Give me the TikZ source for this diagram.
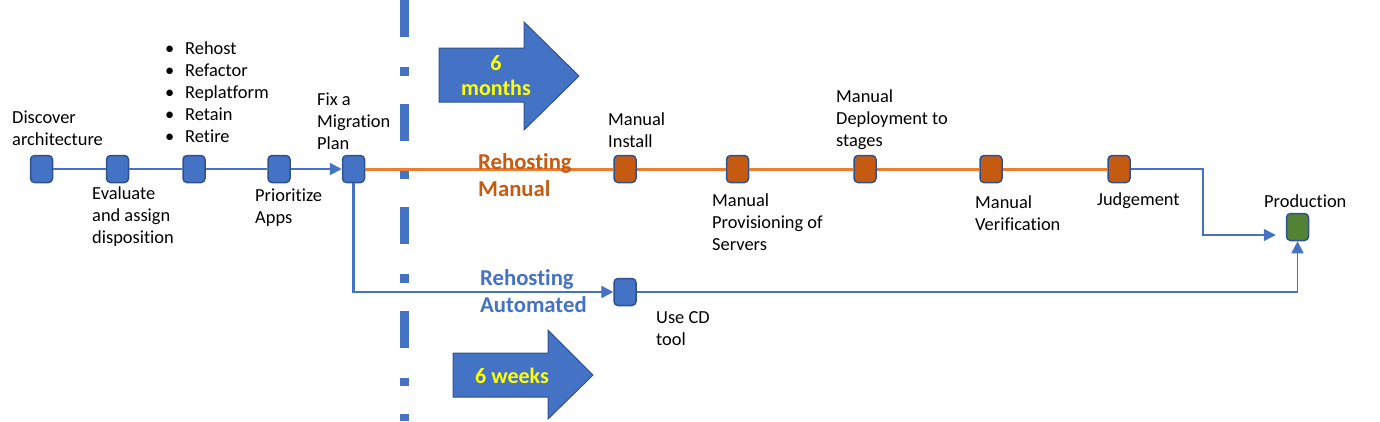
\documentclass[tikz,border=0pt]{standalone}
\usepackage{fontspec}
\setmainfont[Ligatures=NoCommon]{Carlito}
\usetikzlibrary{arrows.meta}
\definecolor{mblue}{HTML}{4472C4}
\definecolor{mborder}{HTML}{2F528F}
\definecolor{morange}{HTML}{C55A11}
\definecolor{lorange}{HTML}{ED7D31}
\definecolor{mgreen}{HTML}{548235}
\definecolor{myellow}{HTML}{FFFF00}
\tikzset{
  stage/.style={draw=mborder, line width=1.5pt, rounded corners=4pt, minimum width=22pt, minimum height=27pt, inner sep=0pt},
  bstage/.style={stage, fill=mblue},
  ostage/.style={stage, fill=morange},
  gstage/.style={stage, fill=mgreen},
  lbl/.style={anchor=north west, inner sep=0pt, align=left, font=\fontsize{18.4}{22}\selectfont},
  tag/.style={anchor=north west, inner sep=0pt, align=left, font=\fontsize{22.7}{27}\selectfont\bfseries},
  flow/.style={draw=mblue, line width=2pt},
  mflow/.style={draw=lorange, line width=3pt},
  thin/.style={draw=mblue, line width=1.5pt},
  tip/.style={-{Triangle[length=12pt,width=12pt,fill=mblue]}},
  bigarrow/.style={fill=mblue, draw=mborder, line width=1pt},
  period/.style={text=myellow, align=center, inner sep=0pt, font=\fontsize{22}{25}\selectfont\bfseries},
}
\begin{document}
\begin{tikzpicture}[x=1pt,y=-1pt]
\useasboundingbox (0,0) rectangle (1380,421);
% dash-dot separator
\draw[mblue, line width=9pt, dash pattern=on 37pt off 30pt on 8.5pt off 28pt] (404.5,0) -- (404.5,421);
% big arrows
\draw[bigarrow] (439,48) -- (524,48) -- (524,22) -- (579,76) -- (524,130) -- (524,102) -- (439,102) -- cycle;
\node[period] (months) at (496,76) {6\\months};
\draw[bigarrow] (453,353) -- (548,353) -- (548,330) -- (593,375) -- (548,419) -- (548,397) -- (453,397) -- cycle;
\node[period] (weeks) at (512,376) {6 weeks};
% stages
\node[bstage] (disc) at (41.5,169) {};
\node[bstage] (eval) at (117.5,169) {};
\node[bstage] (disp) at (194,169) {};
\node[bstage] (prio) at (279,169) {};
\node[bstage] (fix) at (353.5,169) {};
\node[ostage] (inst) at (625,169) {};
\node[ostage] (prov) at (737.5,169) {};
\node[ostage] (dep) at (865,169) {};
\node[ostage] (ver) at (991,169) {};
\node[ostage] (judg) at (1119,169) {};
\node[gstage] (prod) at (1297.5,227) {};
\node[bstage] (cd) at (625,292) {};
\coordinate (jb) at (1203,235);
% connectors
\draw[flow] (disc) -- (eval) -- (disp) -- (prio);
\draw[flow, tip] (prio) -- (fix);
\draw[mflow] (fix) -- (inst) -- (prov) -- (dep) -- (ver) -- (judg);
\draw[flow, line width=2.5pt, tip] (fix.south) |- (cd.west);
\draw[thin, tip, shorten >=10pt] (judg.east) -| (jb) -- (jb -| prod.west);
\draw[thin, tip] (cd.east) -| (prod.south);
% labels
\node[lbl] (ldisc) at (12,111) {Discover\\architecture};
\node[lbl] (leval) at (92,187) {Evaluate\\and assign\\disposition};
\node[lbl] (ldisp) at (165,42) {\makebox[20pt][l]{•}Rehost\\\makebox[20pt][l]{•}Refactor\\\makebox[20pt][l]{•}Replatform\\\makebox[20pt][l]{•}Retain\\\makebox[20pt][l]{•}Retire};
\node[lbl] (lprio) at (255,189) {Prioritize\\Apps};
\node[lbl] (lfix) at (317,93) {Fix a\\Migration\\Plan};
\node[lbl] (linst) at (608,113) {Manual\\Install};
\node[lbl] (lprov) at (712,194) {Manual\\Provisioning of\\Servers};
\node[lbl] (ldep) at (836,90) {Manual\\Deployment to\\stages};
\node[lbl] (lver) at (975,196) {Manual\\Verification};
\node[lbl] (ljudg) at (1097,193) {Judgement};
\node[lbl] (lprod) at (1264,195) {Production};
\node[lbl] (lcd) at (656,311) {Use CD\\tool};
\node[tag, text=morange] (lman) at (478,153) {Rehosting\\Manual};
\node[tag, text=mblue] (lauto) at (480,269) {Rehosting\\Automated};
\end{tikzpicture}
\end{document}
